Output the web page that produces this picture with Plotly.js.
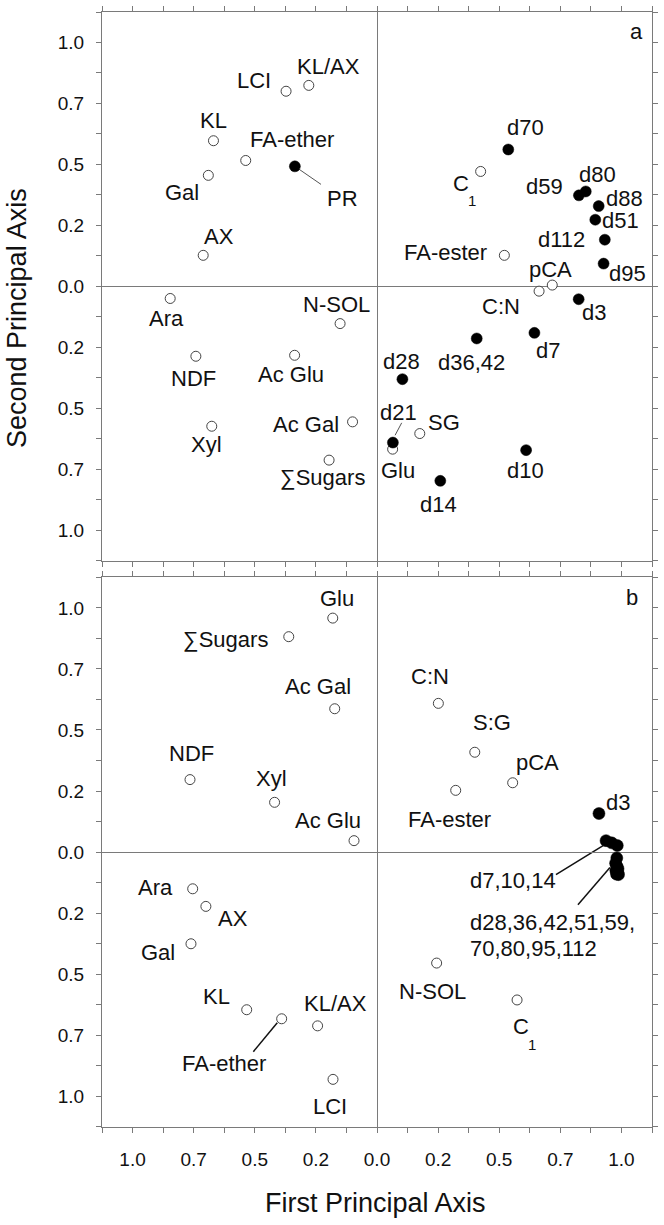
<!DOCTYPE html>
<html>
<head>
<meta charset="utf-8">
<script src="https://cdn.plot.ly/plotly-3.0.1.min.js"></script>
<style>html,body{margin:0;padding:0;background:#fff;}#chart{width:664px;height:1225px;}</style>
</head>
<body>
<div id="chart"></div>
<script>
// ---------- axis ticks ----------
const tickVals = [-1.125,-1.0,-0.875,-0.75,-0.625,-0.5,-0.375,-0.25,-0.125,0,0.125,0.25,0.375,0.5,0.625,0.75,0.875,1.0,1.125];
const tickText = ['','1.0','','0.7','','0.5','','0.2','','0.0','','0.2','','0.5','','0.7','','1.0',''];

// ---------- panel a: variables (open circles) ----------
const aOpenNames = ['LCI','KL/AX','KL','FA-ether','Gal','AX','C1','FA-ester','C:N','pCA','Ara','NDF','Xyl','N-SOL','Ac Glu','Ac Gal','∑Sugars','SG','Glu'];
const aOpenX = [-0.372,-0.279,-0.669,-0.537,-0.690,-0.711,0.424,0.521,0.663,0.717,-0.846,-0.741,-0.676,-0.151,-0.337,-0.100,-0.196,0.175,0.064];
const aOpenY = [0.800,0.824,0.597,0.516,0.455,0.127,0.471,0.127,-0.020,0.005,-0.050,-0.287,-0.574,-0.153,-0.283,-0.556,-0.713,-0.604,-0.668];

// ---------- panel a: samples (filled circles) ----------
const aFillNames = ['PR','d70','d59','d80','d88','d51','d112','d95','d3','d7','d10','d36,42','d28','d21','d14'];
const aFillX = [-0.336,0.537,0.826,0.854,0.907,0.893,0.932,0.927,0.825,0.644,0.610,0.408,0.104,0.065,0.259];
const aFillY = [0.492,0.561,0.373,0.389,0.329,0.273,0.191,0.093,-0.053,-0.191,-0.672,-0.214,-0.381,-0.641,-0.798];

// ---------- panel b: variables (open circles) ----------
const bOpenNames = ['Glu','∑Sugars','Ac Gal','NDF','Xyl','Ac Glu','C:N','S:G','FA-ester','pCA','Ara','AX','Gal','KL','FA-ether','KL/AX','LCI','N-SOL','C1'];
const bOpenX = [-0.181,-0.361,-0.173,-0.765,-0.419,-0.094,0.251,0.400,0.322,0.555,-0.754,-0.700,-0.761,-0.533,-0.390,-0.243,-0.180,0.244,0.573];
const bOpenY = [0.958,0.882,0.587,0.297,0.204,0.047,0.609,0.409,0.253,0.284,-0.150,-0.222,-0.375,-0.645,-0.682,-0.711,-0.930,-0.454,-0.605];

// ---------- panel b: samples (filled circles) ----------
const bFillNames = ['d3','d7','d10','d14','d28','d36','d42','d51','d59','d70','d80','d95','d112'];
const bFillX = [0.908,0.937,0.960,0.983,0.981,0.976,0.982,0.986,0.977,0.981,0.986,0.980,0.988];
const bFillY = [0.158,0.047,0.038,0.027,-0.024,-0.045,-0.058,-0.068,-0.075,-0.080,-0.085,-0.090,-0.092];

// ---------- label text and positions (data units) ----------
const aLabelText = ['LCI','KL/AX','KL','FA-ether','Gal','AX','PR','C','FA-ester','d70','d59','d80','d88','d51','d112','pCA','d95','C:N','d36,42','d3','d7','d10','N-SOL','Ara','NDF','Xyl','Ac Glu','Ac Gal','∑Sugars','d28','d21','SG','Glu','d14'];
const aLabelX = [-0.503,-0.200,-0.668,-0.348,-0.798,-0.648,-0.143,0.342,0.282,0.606,0.686,0.903,1.012,0.996,0.754,0.708,1.026,0.509,0.387,0.887,0.701,0.606,-0.167,-0.862,-0.752,-0.697,-0.353,-0.289,-0.223,0.102,0.087,0.274,0.087,0.251];
const aLabelY = [0.846,0.903,0.680,0.602,0.383,0.204,0.359,0.421,0.137,0.650,0.411,0.459,0.360,0.268,0.191,0.068,0.052,-0.081,-0.314,-0.107,-0.264,-0.757,-0.073,-0.132,-0.377,-0.648,-0.363,-0.566,-0.785,-0.307,-0.517,-0.559,-0.757,-0.893];
const aSubText = ['1']; const aSubX = [0.389]; const aSubY = [0.352];

const bLabelText = ['Glu','∑Sugars','Ac Gal','NDF','Xyl','Ac Glu','C:N','S:G','pCA','FA-ester','d3','Ara','AX','Gal','KL','FA-ether','KL/AX','LCI','N-SOL','C'];
const bLabelX = [-0.162,-0.620,-0.240,-0.758,-0.431,-0.201,0.217,0.469,0.655,0.297,0.986,-0.908,-0.588,-0.895,-0.655,-0.626,-0.171,-0.194,0.226,0.590];
const bLabelY = [1.039,0.871,0.676,0.405,0.301,0.129,0.717,0.531,0.369,0.133,0.205,-0.143,-0.273,-0.410,-0.591,-0.866,-0.618,-1.043,-0.570,-0.715];
const bSubText = ['1']; const bSubX = [0.636]; const bSubY = [-0.788];
// left-aligned group labels in panel b
const bGroupText = ['d7,10,14','d28,36,42,51,59,','70,80,95,112'];
const bGroupX = [0.374,0.374,0.374];
const bGroupY = [-0.117,-0.287,-0.393];

// ---------- leader lines [x0,y0,x1,y1] ----------
const aLeaders = [[-0.336,0.492,-0.229,0.418],[0.101,-0.560,0.074,-0.611]];
const bLeaders = [[-0.506,-0.817,-0.408,-0.698],[0.732,-0.092,0.925,0.027],[0.822,-0.215,0.953,-0.063]];

const FONT = 'Arial, "Liberation Sans", Helvetica, sans-serif';
const AXC = '#7a7a7a';

function openTrace(x,y,names,xa,ya){
  return {type:'scatter',mode:'markers',x:x,y:y,text:names,xaxis:xa,yaxis:ya,hoverinfo:'text',
    marker:{symbol:'circle',size:10,color:'#ffffff',line:{color:'#444',width:1}}};
}
function fillTrace(x,y,names,xa,ya,sz){
  return {type:'scatter',mode:'markers',x:x,y:y,text:names,xaxis:xa,yaxis:ya,hoverinfo:'text',
    marker:{symbol:'circle',size:sz,color:'#000000',line:{color:'#000',width:0.5}}};
}

const data = [
  openTrace(aOpenX,aOpenY,aOpenNames,'x2','y2'),
  fillTrace(aFillX,aFillY,aFillNames,'x2','y2',11),
  openTrace(bOpenX,bOpenY,bOpenNames,'x','y'),
  fillTrace(bFillX,bFillY,bFillNames,'x','y',12)
];

function axisBase(){
  return {range:[-1.125,1.125],tickmode:'array',tickvals:tickVals,ticktext:tickText,
    showline:true,linecolor:AXC,linewidth:1,mirror:'ticks',ticks:'outside',ticklen:5,tickcolor:AXC,tickwidth:1,
    zeroline:true,zerolinecolor:AXC,zerolinewidth:1,showgrid:false,fixedrange:true,
    tickfont:{family:FONT,size:19,color:'#111'}};
}
const xB = Object.assign(axisBase(),{domain:[0,1],anchor:'y',ticklabelstandoff:10});
const xA = Object.assign(axisBase(),{domain:[0,1],anchor:'y2',showticklabels:false});
const yB = Object.assign(axisBase(),{domain:[0,0.493],anchor:'x',ticklabelstandoff:8});
const yA = Object.assign(axisBase(),{domain:[0.508,1],anchor:'x2',ticklabelstandoff:8});

const annotations = [];
function addLabels(txt,xs,ys,xr,yr,size,anchor){
  for(let i=0;i<txt.length;i++){
    annotations.push({text:txt[i],x:xs[i],y:ys[i],xref:xr,yref:yr,showarrow:false,
      xanchor:anchor||'center',yanchor:'middle',font:{family:FONT,size:size,color:'#111'}});
  }
}
addLabels(aLabelText,aLabelX,aLabelY,'x2','y2',22);
addLabels(aSubText,aSubX,aSubY,'x2','y2',15);
addLabels(['a'],[1.060],[1.045],'x2','y2',22);
addLabels(bLabelText,bLabelX,bLabelY,'x','y',22);
addLabels(bSubText,bSubX,bSubY,'x','y',15);
addLabels(['b'],[1.042],[1.042],'x','y',22);
addLabels(bGroupText,bGroupX,bGroupY,'x','y',22,'left');

annotations.push({text:'Second Principal Axis',xref:'paper',yref:'paper',x:-0.1545,y:0.7256,
  xanchor:'center',yanchor:'middle',textangle:-90,showarrow:false,font:{family:FONT,size:27,color:'#111'}});
annotations.push({text:'First Principal Axis',xref:'paper',yref:'paper',x:0.498,y:-0.0682,
  xanchor:'center',yanchor:'middle',showarrow:false,font:{family:FONT,size:27,color:'#111'}});

const shapes = [];
aLeaders.forEach(l=>shapes.push({type:'line',xref:'x2',yref:'y2',x0:l[0],y0:l[1],x1:l[2],y1:l[3],line:{color:'#555',width:1},layer:'below'}));
bLeaders.forEach(l=>shapes.push({type:'line',xref:'x',yref:'y',x0:l[0],y0:l[1],x1:l[2],y1:l[3],line:{color:'#111',width:1.5},layer:'below'}));

const layout = {
  width:664,height:1225,margin:{l:102,r:12,t:12,b:98,autoexpand:false},
  paper_bgcolor:'#fff',plot_bgcolor:'#fff',showlegend:false,
  xaxis:xB,xaxis2:xA,yaxis:yB,yaxis2:yA,
  annotations:annotations,shapes:shapes,
  font:{family:FONT,color:'#111'}
};
Plotly.newPlot('chart',data,layout,{displayModeBar:false,staticPlot:true});
</script>
</body>
</html>
